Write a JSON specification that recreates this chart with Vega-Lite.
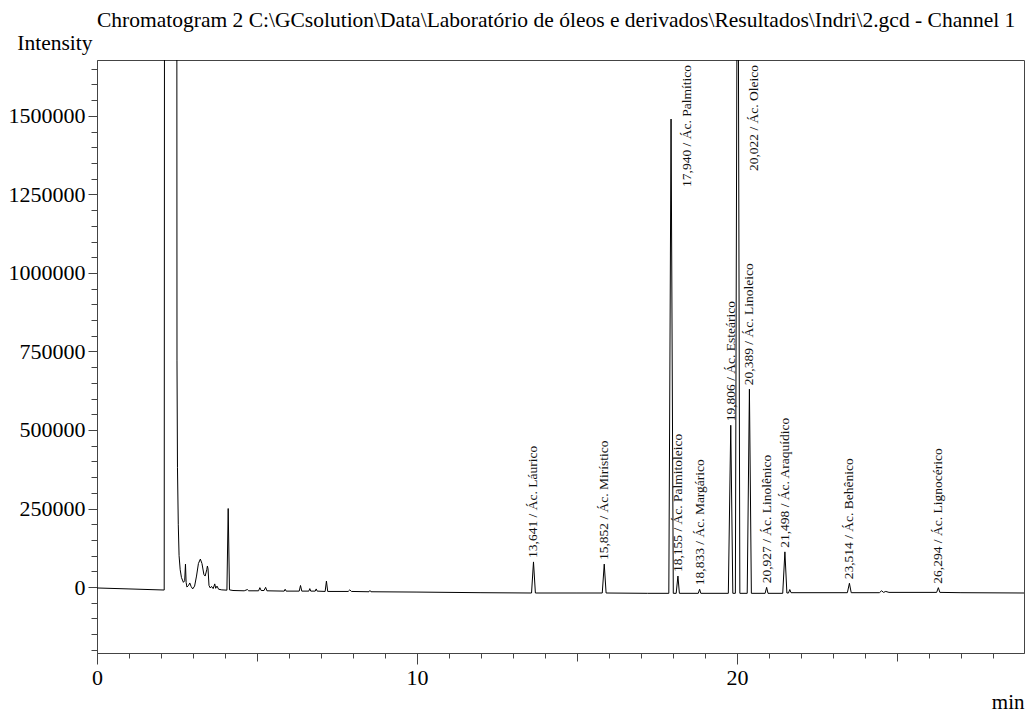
{
  "$schema": "https://vega.github.io/schema/vega-lite/v6.json",
  "width": 927,
  "height": 593,
  "autosize": {"type": "none"},
  "padding": {"left": 97, "top": 60, "right": 3, "bottom": 61},
  "background": "white",
  "title": {
    "text": "Chromatogram 2 C:\\GCsolution\\Data\\Laboratório de óleos e derivados\\Resultados\\Indri\\2.gcd - Channel 1",
    "anchor": "start",
    "frame": "group",
    "font": "Liberation Serif",
    "fontSize": 21.5,
    "fontWeight": "normal",
    "color": "#000",
    "offset": 1
  },
  "config": {
    "view": {"stroke": "#444", "strokeWidth": 1},
    "axis": {"domainColor": "#444", "tickColor": "#444", "grid": false, "labelFont": "Liberation Serif", "titleFont": "Liberation Serif", "labelColor": "#000", "titleColor": "#000", "titleFontWeight": "normal"}
  },
  "datasets": {
    "trace": [
      {"t": 0, "v": -3000}, {"t": 1.0, "v": -6000}, {"t": 2.10, "v": -9500},
      {"t": 2.115, "v": 3000000}, {"t": 2.49, "v": 3000000}, {"t": 2.50, "v": 720000},
      {"t": 2.515, "v": 380000}, {"t": 2.54, "v": 200000}, {"t": 2.565, "v": 100000},
      {"t": 2.60, "v": 55000}, {"t": 2.64, "v": 30000}, {"t": 2.70, "v": 15000},
      {"t": 2.74, "v": 20000}, {"t": 2.765, "v": 73000}, {"t": 2.785, "v": 15000},
      {"t": 2.81, "v": 0}, {"t": 2.86, "v": 5000}, {"t": 2.90, "v": 13000},
      {"t": 2.94, "v": 2000}, {"t": 2.99, "v": -6000}, {"t": 3.05, "v": 3000},
      {"t": 3.11, "v": 35000}, {"t": 3.17, "v": 75000}, {"t": 3.23, "v": 89000},
      {"t": 3.28, "v": 75000}, {"t": 3.34, "v": 40000}, {"t": 3.38, "v": 35000},
      {"t": 3.43, "v": 55000}, {"t": 3.45, "v": 67000}, {"t": 3.47, "v": 58000},
      {"t": 3.50, "v": 5000}, {"t": 3.54, "v": -3000}, {"t": 3.58, "v": 2000},
      {"t": 3.63, "v": -5000}, {"t": 3.68, "v": 10000}, {"t": 3.71, "v": -4000},
      {"t": 3.75, "v": 3000}, {"t": 3.80, "v": -7000}, {"t": 3.90, "v": -9000},
      {"t": 4.06, "v": -10000}, {"t": 4.10, "v": 250000}, {"t": 4.14, "v": -9000},
      {"t": 4.25, "v": -11000}, {"t": 4.60, "v": -12000}, {"t": 4.70, "v": -8000},
      {"t": 4.74, "v": -12000}, {"t": 5.05, "v": -12000}, {"t": 5.09, "v": -2000},
      {"t": 5.13, "v": -11000}, {"t": 5.22, "v": -11000}, {"t": 5.27, "v": -1000},
      {"t": 5.31, "v": -12000}, {"t": 5.85, "v": -13000}, {"t": 5.88, "v": -7000},
      {"t": 5.91, "v": -13000}, {"t": 6.32, "v": -13000}, {"t": 6.36, "v": 5000},
      {"t": 6.40, "v": -13000}, {"t": 6.62, "v": -13000}, {"t": 6.65, "v": -5000},
      {"t": 6.68, "v": -13000}, {"t": 6.82, "v": -13000}, {"t": 6.85, "v": -6000},
      {"t": 6.88, "v": -13000}, {"t": 7.13, "v": -14000}, {"t": 7.17, "v": 19000},
      {"t": 7.21, "v": -14000}, {"t": 7.85, "v": -14000}, {"t": 7.90, "v": -9000},
      {"t": 7.95, "v": -14000}, {"t": 8.50, "v": -15000}, {"t": 8.53, "v": -11000},
      {"t": 8.56, "v": -15000}, {"t": 10.0, "v": -16000}, {"t": 12.0, "v": -18000},
      {"t": 13.58, "v": -19000}, {"t": 13.641, "v": 80000}, {"t": 13.70, "v": -19000},
      {"t": 15.0, "v": -19000}, {"t": 15.79, "v": -19000}, {"t": 15.852, "v": 73000},
      {"t": 15.91, "v": -19000}, {"t": 17.2, "v": -20000}, {"t": 17.87, "v": -20000},
      {"t": 17.94, "v": 1490000}, {"t": 18.01, "v": -20000}, {"t": 18.10, "v": -20000},
      {"t": 18.155, "v": 35000}, {"t": 18.20, "v": -20000}, {"t": 18.79, "v": -20000},
      {"t": 18.833, "v": -7000}, {"t": 18.87, "v": -20000}, {"t": 19.73, "v": -20000},
      {"t": 19.806, "v": 515000}, {"t": 19.87, "v": -20000}, {"t": 19.95, "v": -20000},
      {"t": 20.022, "v": 2600000}, {"t": 20.09, "v": -20000}, {"t": 20.32, "v": -20000},
      {"t": 20.389, "v": 630000}, {"t": 20.45, "v": -20000}, {"t": 20.88, "v": -20000},
      {"t": 20.927, "v": -1000}, {"t": 20.97, "v": -20000}, {"t": 21.43, "v": -20000},
      {"t": 21.498, "v": 112000}, {"t": 21.56, "v": -19000}, {"t": 21.61, "v": -19000},
      {"t": 21.65, "v": -8000}, {"t": 21.69, "v": -18000}, {"t": 23.45, "v": -18000},
      {"t": 23.514, "v": 12000}, {"t": 23.57, "v": -18000}, {"t": 24.45, "v": -18000},
      {"t": 24.52, "v": -12000}, {"t": 24.58, "v": -17000}, {"t": 24.65, "v": -14000},
      {"t": 24.75, "v": -17000}, {"t": 26.24, "v": -17000}, {"t": 26.294, "v": -2000},
      {"t": 26.34, "v": -17000}, {"t": 27.0, "v": -18000}, {"t": 28.97, "v": -19000}
    ],
    "peaks": [
      {"t": 13.641, "v": 80000, "label": "13,641 / Ác. Láurico"},
      {"t": 15.852, "v": 73000, "label": "15,852 / Ác. Mirístico"},
      {"t": 17.94, "v": 1490000, "label": "17,940 / Ác. Palmítico"},
      {"t": 18.155, "v": 35000, "label": "18,155 / Ác. Palmitoleico"},
      {"t": 18.833, "v": -7000, "label": "18,833 / Ác. Margárico"},
      {"t": 19.806, "v": 515000, "label": "19,806 / Ác. Esteárico"},
      {"t": 20.022, "v": 2600000, "label": "20,022 / Ác. Oleico"},
      {"t": 20.389, "v": 630000, "label": "20,389 / Ác. Linoleico"},
      {"t": 20.927, "v": -1000, "label": "20,927 / Ác. Linolênico"},
      {"t": 21.498, "v": 112000, "label": "21,498 / Ác. Araquídico"},
      {"t": 23.514, "v": 12000, "label": "23,514 / Ác. Behênico"},
      {"t": 26.294, "v": -2000, "label": "26,294 / Ác. Lignocérico"}
    ]
  },
  "encoding": {
    "x": {
      "field": "t", "type": "quantitative",
      "scale": {"domain": [0, 28.97], "nice": false, "zero": false},
      "axis": {
        "values": [0,1,2,3,4,5,6,7,8,9,10,11,12,13,14,15,16,17,18,19,20,21,22,23,24,25,26,27,28],
        "format": "d",
        "labelExpr": "datum.value % 10 === 0 ? datum.label : ''",
        "tickSize": {"condition": [{"test": "datum.value % 10 === 0", "value": 11}, {"test": "datum.value % 5 === 0", "value": 8}], "value": 5},
        "labelFontSize": 22,
        "labelPadding": 3,
        "labelFlush": false,
        "labelOverlap": false,
        "title": "min",
        "titleFontSize": 21,
        "titleAngle": 0,
        "titleAlign": "right",
        "titleBaseline": "alphabetic",
        "titleX": 927,
        "titleY": 55
      }
    },
    "y": {
      "field": "v", "type": "quantitative",
      "scale": {"domain": [-210000, 1678000], "nice": false, "zero": false},
      "axis": {
        "values": [-200000,-150000,-100000,-50000,0,50000,100000,150000,200000,250000,300000,350000,400000,450000,500000,550000,600000,650000,700000,750000,800000,850000,900000,950000,1000000,1050000,1100000,1150000,1200000,1250000,1300000,1350000,1400000,1450000,1500000,1550000,1600000,1650000],
        "format": "d",
        "labelExpr": "datum.value % 250000 === 0 ? datum.label : ''",
        "tickSize": {"condition": {"test": "datum.value % 250000 === 0", "value": 9}, "value": 6},
        "labelFontSize": 22,
        "labelPadding": 3,
        "labelOverlap": false,
        "labelFlush": false,
        "title": "Intensity",
        "titleFontSize": 21.5,
        "titleAngle": 0,
        "titleAlign": "right",
        "titleBaseline": "alphabetic",
        "titleX": -5,
        "titleY": -11
      }
    }
  },
  "layer": [
    {
      "data": {"name": "trace"},
      "mark": {"type": "line", "clip": true, "color": "#000", "strokeWidth": 1, "interpolate": "linear"}
    },
    {
      "data": {"name": "peaks"},
      "transform": [{"filter": "datum.v < 1000000"}],
      "mark": {"type": "text", "angle": 270, "align": "left", "baseline": "middle", "dx": 4, "font": "Liberation Serif", "fontSize": 13.5, "color": "#111"},
      "encoding": {"text": {"field": "label"}}
    },
    {
      "data": {"name": "peaks"},
      "transform": [{"filter": "datum.v >= 1000000"}],
      "mark": {"type": "text", "angle": 270, "align": "right", "baseline": "middle", "dx": -5, "dy": 16, "font": "Liberation Serif", "fontSize": 13.5, "color": "#111"},
      "encoding": {"text": {"field": "label"}, "y": {"datum": 1678000, "type": "quantitative"}}
    }
  ]
}
